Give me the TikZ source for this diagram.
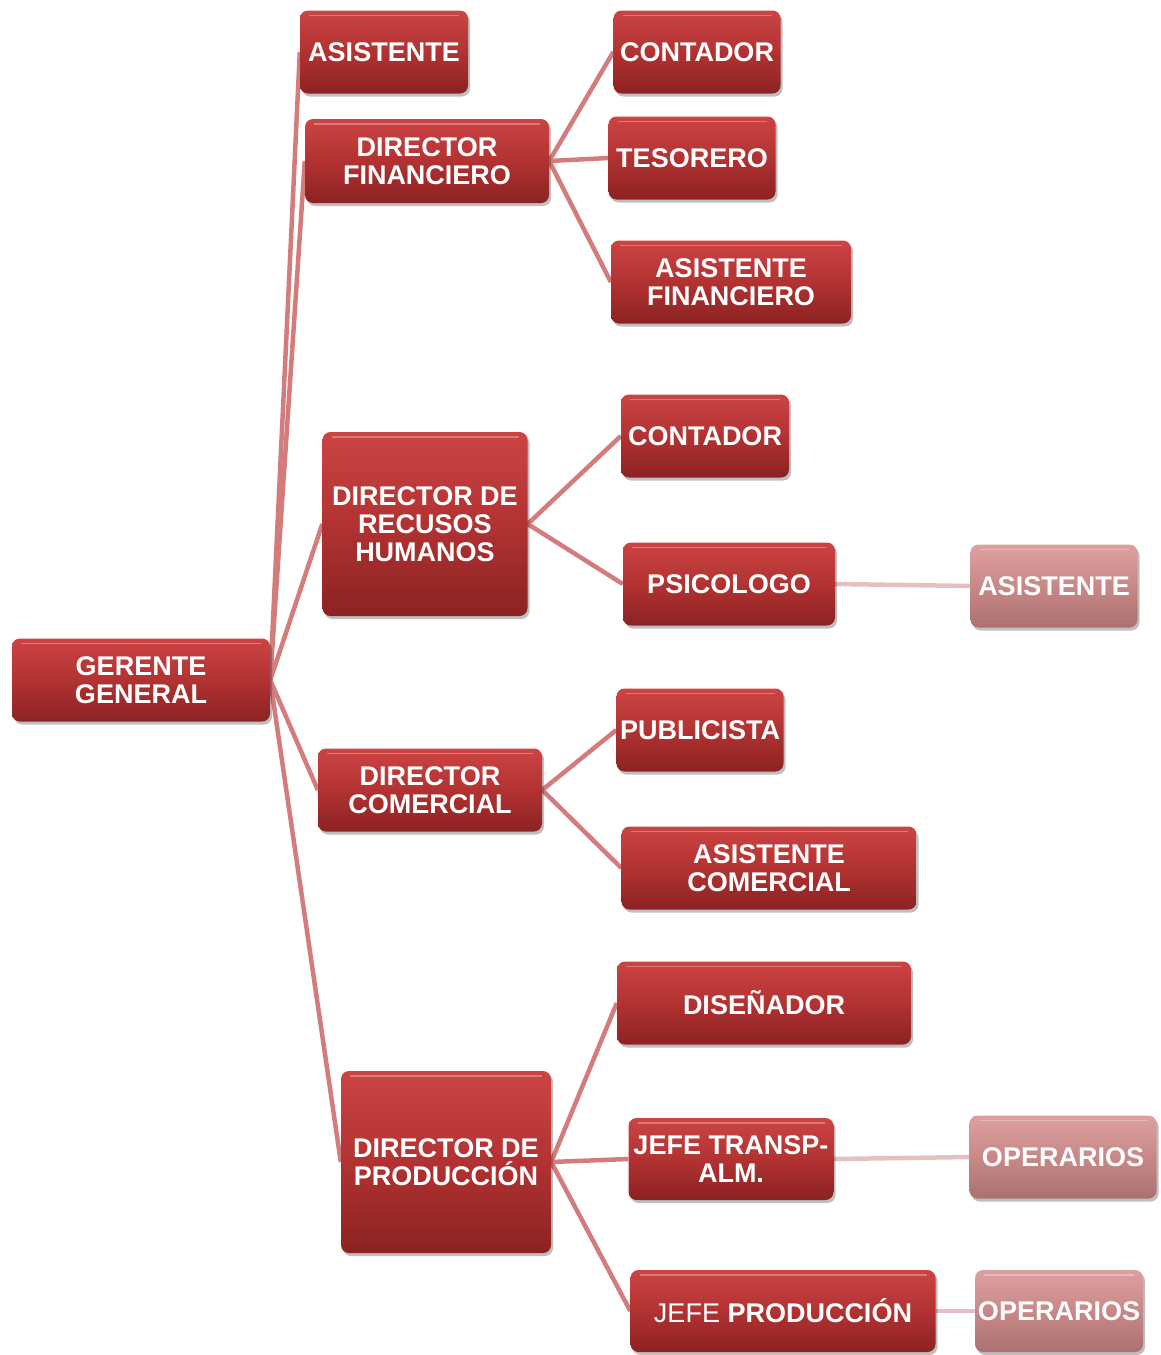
\documentclass[tikz,border=0pt]{standalone}
\usepackage{fontspec}
\setmainfont{Liberation Sans}
\usetikzlibrary{shadows}
\pgfdeclarelayer{bg}
\pgfsetlayers{bg,main}
\definecolor{dtop}{HTML}{CC4444}
\definecolor{dmid}{HTML}{B23232}
\definecolor{dbot}{HTML}{8C2222}
\definecolor{ltop}{HTML}{DDA0A0}
\definecolor{lmid}{HTML}{C88888}
\definecolor{lbot}{HTML}{AC7070}
\definecolor{dline}{HTML}{D47C7C}
\definecolor{lline}{HTML}{E6C0C0}
\tikzset{
  box/.style={rounded corners=8pt, top color=dtop, bottom color=dbot, middle color=dmid,
    text=white, align=center, inner sep=0pt,
    font=\bfseries\fontsize{27}{28}\selectfont,
    drop shadow={shadow xshift=2pt, shadow yshift=-3pt, opacity=0.25, fill=black},
    path picture={\draw[white,opacity=0.3,line width=1.5pt]
      ([xshift=9pt,yshift=-5pt]path picture bounding box.north west) --
      ([xshift=-9pt,yshift=-5pt]path picture bounding box.north east);}},
  lbox/.style={box, top color=ltop, bottom color=lbot, middle color=lmid},
  dlink/.style={draw=dline, line width=4.5pt},
  llink/.style={draw=lline, line width=4.5pt},
}
\begin{document}
\begin{tikzpicture}[x=1pt,y=-1pt]
\useasboundingbox (0,0) rectangle (1161,1355);
% nodes
\node[box, minimum width=258pt, minimum height=83pt] (gg) at (141,680) {GERENTE\\GENERAL};
\node[box, minimum width=168pt, minimum height=83pt] (asis) at (384,52) {ASISTENTE};
\node[box, minimum width=244pt, minimum height=84pt] (dfin) at (427,161) {DIRECTOR\\FINANCIERO};
\node[box, minimum width=167pt, minimum height=83pt] (cont1) at (697,52) {CONTADOR};
\node[box, minimum width=167pt, minimum height=83pt] (teso) at (692,158) {TESORERO};
\node[box, minimum width=240pt, minimum height=83pt] (asfin) at (731,282) {ASISTENTE\\FINANCIERO};
\node[box, minimum width=205pt, minimum height=184pt] (drh) at (425,524) {DIRECTOR DE\\RECUSOS\\HUMANOS};
\node[box, minimum width=168pt, minimum height=83pt] (cont2) at (705,436) {CONTADOR};
\node[box, minimum width=212pt, minimum height=83pt] (psico) at (729,584) {PSICOLOGO};
\node[lbox, minimum width=167pt, minimum height=83pt] (asis2) at (1054,586) {ASISTENTE};
\node[box, minimum width=224pt, minimum height=83pt] (dcom) at (430,790) {DIRECTOR\\COMERCIAL};
\node[box, minimum width=167pt, minimum height=83pt] (publ) at (700,730) {PUBLICISTA};
\node[box, minimum width=295pt, minimum height=83pt] (ascom) at (769,868) {ASISTENTE\\COMERCIAL};
\node[box, minimum width=210pt, minimum height=182pt] (dprod) at (446,1162) {DIRECTOR DE\\PRODUCCIÓN};
\node[box, minimum width=294pt, minimum height=83pt] (dise) at (764,1003) {DISEÑADOR};
\node[box, minimum width=205pt, minimum height=82pt] (jta) at (731,1159) {JEFE TRANSP-\\ALM.};
\node[lbox, minimum width=187pt, minimum height=83pt] (oper1) at (1063,1157) {OPERARIOS};
\node[box, minimum width=305pt, minimum height=82pt] (jprod) at (783,1311) {\mdseries JEFE \bfseries PRODUCCIÓN};
\node[lbox, minimum width=168pt, minimum height=82pt] (oper2) at (1059,1311) {OPERARIOS};
% connectors
\begin{pgfonlayer}{bg}
\foreach \c in {asis,dfin,drh,dcom,dprod} \draw[dlink] (gg.east) -- (\c.west);
\foreach \c in {cont1,teso,asfin} \draw[dlink] (dfin.east) -- (\c.west);
\foreach \c in {cont2,psico} \draw[dlink] (drh.east) -- (\c.west);
\foreach \c in {publ,ascom} \draw[dlink] (dcom.east) -- (\c.west);
\foreach \c in {dise,jta,jprod} \draw[dlink] (dprod.east) -- (\c.west);
\draw[llink] (psico.east) -- (asis2.west);
\draw[llink] (jta.east) -- (oper1.west);
\draw[llink] (jprod.east) -- (oper2.west);
\end{pgfonlayer}
\end{tikzpicture}
\end{document}
